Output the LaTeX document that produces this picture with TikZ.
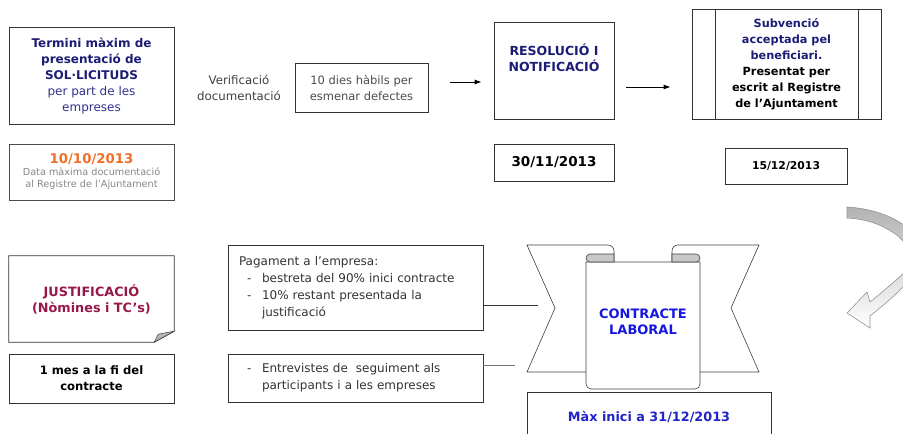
\documentclass[tikz,border=0pt]{standalone}
\usepackage{fontspec}
\setmainfont{DejaVu Sans}
\usetikzlibrary{positioning}
\usetikzlibrary{arrows.meta}
\definecolor{navy}{RGB}{28,28,118}
\definecolor{navylight}{RGB}{50,50,140}
\definecolor{datorange}{RGB}{240,110,40}
\definecolor{greytxt}{RGB}{135,135,135}
\definecolor{maroon}{RGB}{150,24,72}
\definecolor{brightblue}{RGB}{22,22,225}
\definecolor{maxblue}{RGB}{35,35,200}
\definecolor{curlgray}{RGB}{200,200,200}
\tikzset{box/.style={draw=black!80, line width=0.8pt, fill=white, align=center, inner sep=0pt}}
\tikzset{frame/.style={draw=black!80, line width=0.8pt}}
\tikzset{arr/.style={-{Latex[length=7pt,width=5pt]}, line width=0.8pt}}
\tikzset{ribbon/.style={draw=black!75, line width=0.6pt, fill=white}}
\tikzset{fnt/.style={font=\fontsize{#1}{16}\selectfont}}
\tikzset{fntb/.style={font=\fontsize{#1}{16}\selectfont\bfseries}}
\newcommand{\smallgrey}{\fontsize{9.7}{13}\selectfont\color{greytxt}}

\begin{document}
\begin{tikzpicture}[x=1pt,y=-1pt]
\useasboundingbox (0,0) rectangle (903,434);
\node[box, minimum width=165pt, minimum height=97pt, fntb=12, text=navy] (termini) at (91.5,75.5) {Termini màxim de\\presentació de\\SOL·LICITUDS\\\mdseries\color{navylight}per part de les\\\mdseries\color{navylight}empreses};
\node[box, minimum width=165pt, minimum height=56pt, draw=black!70] (data1) at (91.5,172) {{\fontsize{13.3}{15}\selectfont\bfseries\color{datorange}10/10/2013}\\{\smallgrey Data màxima documentació}\\{\smallgrey al Registre de l’Ajuntament}};
\node[fnt=11.8, text=black!75, align=center] (verif) at (239,88) {Verificació\\documentació};
\node[box, minimum width=133pt, minimum height=49pt, fnt=11.5, text=black!70] (dies) at (361.5,87.5) {10 dies hàbils per\\esmenar defectes};
\node[box, minimum width=120pt, minimum height=97pt] (resol) at (554,70.5) {};
\node[fntb=12.5, text=navy, align=center, below=19pt of resol.north] (resoltxt) {RESOLUCIÓ I\\NOTIFICACIÓ};
\node[box, minimum width=120pt, minimum height=37pt, fntb=13.5] (data2) at (554,162.5) {30/11/2013};
\node[box, minimum width=189pt, minimum height=110pt, fntb=11.3, text=black] (subv) at (786.5,64) {\color{navy}Subvenció\\\color{navy}acceptada pel\\\color{navy}beneficiari.\\Presentat per\\escrit al Registre\\de l’Ajuntament};
\draw[frame] ([xshift=24pt]subv.north west) -- ([xshift=24pt]subv.south west);
\draw[frame] ([xshift=-23pt]subv.north east) -- ([xshift=-23pt]subv.south east);
\node[box, minimum width=122pt, minimum height=36pt, fntb=10.8] (data3) at (786,166) {15/12/2013};
\draw[arr] ([shift={(22pt,5.5pt)}]dies.east) -- ([shift={(-12pt,-11.5pt)}]resol.west);
\draw[arr] ([shift={(12pt,-16.5pt)}]resol.east) -- ([shift={(-21pt,-23pt)}]subv.west);

\node[minimum width=165pt, minimum height=86pt, fntb=12.8, text=maroon, align=center, inner sep=0pt] (justif) at (91.5,299) {JUSTIFICACIÓ\\(Nòmines i TC’s)};
\draw[frame] (justif.south west) -- (justif.north west) -- (justif.north east) -- ([yshift=11pt]justif.south east) -- ([xshift=-20pt]justif.south east) -- cycle;
\draw[frame, fill=gray!55, line width=0.5pt] ([yshift=11pt]justif.south east) -- ([xshift=-20pt]justif.south east) -- ([shift={(-16pt,8pt)}]justif.south east) -- cycle;
\node[box, minimum width=165pt, minimum height=49pt, fntb=11.6] (mes) at (91.5,378.5) {1 mes a la fi del\\contracte};

\node[box, minimum width=255pt, minimum height=85pt, text width=233pt, align=left, font=\fontsize{12}{17}\selectfont, text=black!80] (pag) at (355.5,287.5) {Pagament a l’empresa:\\\hspace*{8pt}\makebox[15pt][l]{-}bestreta del 90\% inici contracte\\\hspace*{8pt}\makebox[15pt][l]{-}10\% restant presentada la\\\hspace*{23pt}justificació};
\node[box, minimum width=255pt, minimum height=48pt, text width=233pt, align=left, font=\fontsize{12}{17}\selectfont, text=black!80] (entrev) at (355.5,378) {\hspace*{8pt}\makebox[15pt][l]{-}Entrevistes de\ \ seguiment als\\\hspace*{23pt}participants i a les empreses};
\draw[frame] ([yshift=-17.5pt]pag.east) -- ++(55,0);
\draw[frame, draw=black!55] ([yshift=13pt]entrev.east) -- ++(32,0);

\draw[ribbon] (527,245) -- (608,245) arc[start angle=90,end angle=0,radius=6pt] -- (614,372) -- (527,372) -- (555,308) -- cycle;
\draw[ribbon] (759,245) -- (678,245) arc[start angle=90,end angle=180,radius=6pt] -- (672,372) -- (759,372) -- (731,308) -- cycle;
\draw[ribbon] (586,262) -- (586,384) arc[start angle=180,end angle=270,radius=5pt] -- (695,389) arc[start angle=270,end angle=360,radius=5pt] -- (700,262) -- cycle;
\draw[ribbon, fill=curlgray] (614,262) -- (590,262) arc[start angle=270,end angle=90,radius=4pt] -- (614,254) -- cycle;
\draw[ribbon, fill=curlgray] (672,262) -- (696,262) arc[start angle=270,end angle=450,radius=4pt] -- (672,254) -- cycle;
\node[fntb=13, text=brightblue, align=center] (contr) at (643,322) {CONTRACTE\\LABORAL};
\node[box, minimum width=244pt, minimum height=50pt, fntb=12.8, text=maxblue] (maxini) at (649,417) {Màx inici a 31/12/2013};

\shade[top color=gray!60, bottom color=white, draw=gray!85, line width=0.6pt] (847,207) .. controls (880,209) and (912,222) .. (925,250) .. controls (918,262) and (885,290) .. (870,302) -- (867,292) -- (847,313) -- (870,328) -- (870,316) .. controls (885,304) and (902,290) .. (910,278) .. controls (916,262) and (910,246) .. (898,236) .. controls (882,224) and (866,219) .. (847,218) -- cycle;
\end{tikzpicture}
\end{document}
